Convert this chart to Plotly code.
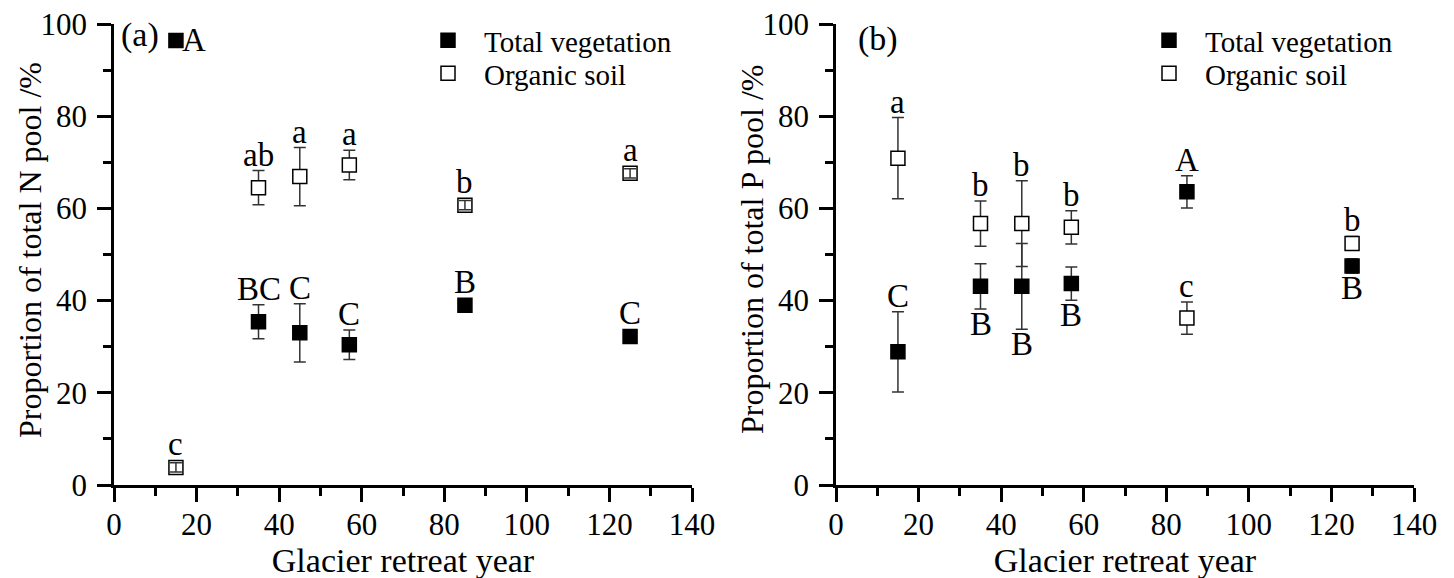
import plotly.graph_objects as go

# ---------------- data ----------------
years = [15, 35, 45, 57, 85, 125]

# Panel (a): proportion of total N pool (%)
n_veg = [96.4, 35.4, 33.0, 30.4, 39.0, 32.2]
n_veg_err = [0.8, 3.7, 6.3, 3.2, 0.8, 0.8]
n_soil = [3.8, 64.5, 66.9, 69.4, 60.7, 67.6]
n_soil_err = [1.0, 3.7, 6.3, 3.2, 1.0, 1.0]
n_veg_letters = ["A", "BC", "C", "C", "B", "C"]
n_veg_pos = ["right", "above", "above", "above", "above", "above"]
n_soil_letters = ["c", "ab", "a", "a", "b", "a"]
n_soil_pos = ["above"] * 6

# Panel (b): proportion of total P pool (%)
p_veg = [28.9, 43.1, 43.1, 43.7, 63.6, 47.5]
p_veg_err = [8.7, 4.9, 9.3, 3.6, 3.5, 1.5]
p_soil = [70.9, 56.7, 56.7, 55.9, 36.2, 52.4]
p_soil_err = [8.8, 4.9, 9.3, 3.6, 3.5, 1.5]
p_veg_letters = ["C", "B", "B", "B", "A", "B"]
p_veg_pos = ["above", "below", "below", "below", "above", "below"]
p_soil_letters = ["a", "b", "b", "b", "c", "b"]
p_soil_pos = ["above"] * 6

x_ticks = [0, 20, 40, 60, 80, 100, 120, 140]
y_ticks = [0, 20, 40, 60, 80, 100]

x_title = "Glacier retreat year"
y_title_a = "Proportion of total N pool /%"
y_title_b = "Proportion of total P pool /%"

# ---------------- style ----------------
FONT = "Liberation Serif, Times New Roman, serif"
W, H = 1454, 578
OFF = 8            # page body margin offset (px)
MS = 14            # marker size px
MK_HALF = 1.6      # half marker height in data units (for label placement)
ERR_COL = "#333333"


def px_x(p):
    return (p - OFF) / W


def px_y(p):
    return (H - (p - OFF)) / H


def soil_fill(errs):
    return ["rgba(0,0,0,0)" if e < 1.2 else "white" for e in errs]


fig = go.Figure()


def add_panel(xa, ya, leg_veg, leg_soil, veg, veg_err, soil, soil_err):
    fig.add_trace(go.Scatter(
        x=years, y=soil, mode="markers", name="Organic soil",
        xaxis=xa, yaxis=ya, legend=leg_soil,
        error_y=dict(type="data", array=soil_err, visible=True,
                     color=ERR_COL, thickness=1.5, width=6),
        marker=dict(symbol="square", size=MS, color=soil_fill(soil_err),
                    line=dict(color="black", width=1.5)),
        cliponaxis=False,
    ))
    fig.add_trace(go.Scatter(
        x=years, y=veg, mode="markers", name="Total vegetation",
        xaxis=xa, yaxis=ya, legend=leg_veg,
        error_y=dict(type="data", array=veg_err, visible=True,
                     color=ERR_COL, thickness=1.5, width=6),
        marker=dict(symbol="square", size=MS, color="black",
                    line=dict(color="black", width=1.5)),
        cliponaxis=False,
    ))


add_panel("x", "y", "legend", "legend3", n_veg, n_veg_err, n_soil, n_soil_err)
add_panel("x2", "y2", "legend2", "legend4", p_veg, p_veg_err, p_soil, p_soil_err)

annotations = []


def add_letters(xr, yr, vals, errs, letters, pos):
    for xv, v, e, t, p in zip(years, vals, errs, letters, pos):
        d = max(e, MK_HALF)
        base = dict(xref=xr, yref=yr, text=t, showarrow=False,
                    font=dict(family=FONT, size=33, color="black"))
        if p == "above":
            base.update(x=xv, y=v + d, yanchor="bottom", xanchor="center", yshift=-4)
        elif p == "below":
            base.update(x=xv, y=v - d, yanchor="top", xanchor="center", yshift=5)
        else:
            base.update(x=xv, y=v, yanchor="middle", xanchor="left", xshift=4, yshift=1)
        annotations.append(base)


add_letters("x", "y", n_veg, n_veg_err, n_veg_letters, n_veg_pos)
add_letters("x", "y", n_soil, n_soil_err, n_soil_letters, n_soil_pos)
add_letters("x2", "y2", p_veg, p_veg_err, p_veg_letters, p_veg_pos)
add_letters("x2", "y2", p_soil, p_soil_err, p_soil_letters, p_soil_pos)

annotations.append(dict(xref="paper", yref="paper", x=px_x(119), y=px_y(35),
                        xanchor="left", yanchor="middle", text="(a)", showarrow=False,
                        font=dict(family=FONT, size=34, color="black")))
annotations.append(dict(xref="paper", yref="paper", x=px_x(856), y=px_y(39),
                        xanchor="left", yanchor="middle", text="(b)", showarrow=False,
                        font=dict(family=FONT, size=34, color="black")))
# y axis titles (rotated)
annotations.append(dict(xref="paper", yref="paper", x=px_x(30), y=px_y(250),
                        xanchor="center", yanchor="middle", text=y_title_a,
                        textangle=-90, showarrow=False,
                        font=dict(family=FONT, size=32, color="black")))
annotations.append(dict(xref="paper", yref="paper", x=px_x(752), y=px_y(250),
                        xanchor="center", yanchor="middle", text=y_title_b,
                        textangle=-90, showarrow=False,
                        font=dict(family=FONT, size=32, color="black")))

axis_common = dict(
    showline=True, linecolor="black", linewidth=2.5,
    ticks="outside", ticklen=14, tickwidth=2.5, tickcolor="black",
    showgrid=False, zeroline=False, automargin=False,
    ticklabeloverflow="allow",
    tickfont=dict(family=FONT, size=31, color="black"),
    minor=dict(ticks="outside", ticklen=8, tickwidth=2.5, tickcolor="black", dtick=10),
    mirror=False,
)

xdom1 = [px_x(114), px_x(692)]
xdom2 = [px_x(836), px_x(1414)]
ydom = [px_y(485), px_y(24)]

leg_common = dict(xanchor="left", yanchor="top", itemwidth=62,
                  bgcolor="rgba(0,0,0,0)", borderwidth=0,
                  font=dict(family=FONT, size=29, color="black"))

fig.update_layout(
    template="none",
    width=W, height=H,
    margin=dict(l=0, r=0, t=0, b=0, autoexpand=False),
    paper_bgcolor="white", plot_bgcolor="white",
    font=dict(family=FONT, color="black"),
    xaxis=dict(domain=xdom1, range=[0, 140], tickvals=x_ticks, anchor="y",
               ticklabelstandoff=-4,
               title=dict(text=x_title, standoff=8,
                          font=dict(family=FONT, size=34)), **axis_common),
    yaxis=dict(domain=ydom, range=[0, 100], tickvals=y_ticks, anchor="x",
               ticklabelstandoff=4, **axis_common),
    xaxis2=dict(domain=xdom2, range=[0, 140], tickvals=x_ticks, anchor="y2",
                ticklabelstandoff=-4,
                title=dict(text=x_title, standoff=8,
                           font=dict(family=FONT, size=34)), **axis_common),
    yaxis2=dict(domain=ydom, range=[0, 100], tickvals=y_ticks, anchor="x2",
                ticklabelstandoff=4, **axis_common),
    legend=dict(x=px_x(412), y=px_y(15), **leg_common),
    legend3=dict(x=px_x(412), y=px_y(48), **leg_common),
    legend2=dict(x=px_x(1133), y=px_y(15), **leg_common),
    legend4=dict(x=px_x(1133), y=px_y(48), **leg_common),
    annotations=annotations,
    showlegend=True,
)

fig.write_html("out.html")
